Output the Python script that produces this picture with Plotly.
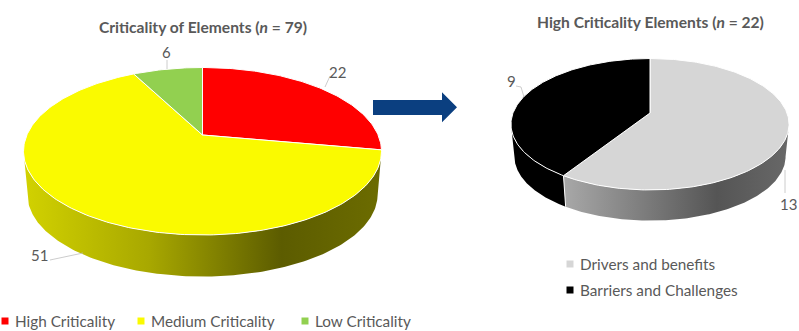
import math
import numpy as np
import plotly.graph_objects as go

# ---- data
left_title = "<b>Criticality of Elements (<i>n</i> = 79)</b>"
left_categories = ["High Criticality", "Medium Criticality", "Low Criticality"]
left_values = [22, 51, 6]
left_colors = ["#FF0000", "#FAFA00", "#92D050"]

right_title = "<b>High Criticality Elements (<i>n</i> = 22)</b>"
right_categories = ["Drivers and benefits", "Barriers and Challenges"]
right_values = [13, 9]
right_colors = ["#D6D6D6", "#000000"]

# ---- shading of the pie walls (left edge to right edge of each wall)
left_wall = {1: [[0, "#D2D200"], [0.35, "#A8A800"], [0.72, "#5C5C00"], [1, "#6C6C00"]]}
right_wall = {0: [[0, "#A8A8A8"], [0.68, "#555555"], [1, "#686868"]],
              1: [[0, "#000000"], [1, "#000000"]]}

TEXT = "#595959"
LEADER = "#BFBFBF"
FONT = "Lato"


def project(theta, g, bottom=False):
    """Perspective view of a unit-circle point at clockwise angle theta."""
    k = g["k"]
    X, Y = np.sin(theta), -np.cos(theta)
    w = 1 - k * Y
    dx = g["a"] * X / w
    dy = g["b"] * Y / w
    if bottom:
        return g["cx"] + g["s"] * dx, g["cy"] + g["d"] + g["s"] * dy
    return g["cx"] + dx, g["cy"] + dy


def add_pie(fig, values, colors, wall, g):
    total = sum(values)
    edges = np.cumsum([0] + values) / total * 2 * math.pi
    # widest points of the perspective disc limit the visible wall
    vis0 = math.acos(-g["k"])
    vis1 = 2 * math.pi - vis0
    for i, colour in enumerate(colors):
        t0, t1 = max(edges[i], vis0), min(edges[i + 1], vis1)
        if t1 <= t0 or i not in wall:
            continue
        th = np.linspace(t0, t1, 160)
        xt, yt = project(th, g)
        xb, yb = project(th[::-1], g, bottom=True)
        fig.add_trace(go.Scatter(
            x=np.r_[xt, xb, xt[0]], y=np.r_[yt, yb, yt[0]],
            mode="lines", fill="toself", line=dict(width=0),
            fillgradient=dict(type="horizontal", colorscale=wall[i]),
            hoverinfo="skip", showlegend=False))
    # seams between wall pieces
    for e in edges:
        if vis0 < e < vis1:
            xt, yt = project(e, g)
            xb, yb = project(e, g, bottom=True)
            fig.add_trace(go.Scatter(x=[xt, xb], y=[yt, yb], mode="lines",
                                     line=dict(color="white", width=1),
                                     hoverinfo="skip", showlegend=False))
    for i, colour in enumerate(colors):
        n = max(int((edges[i + 1] - edges[i]) * 60), 8)
        th = np.linspace(edges[i], edges[i + 1], n)
        xr, yr = project(th, g)
        fig.add_trace(go.Scatter(
            x=np.r_[g["cx"], xr, g["cx"]], y=np.r_[g["cy"], yr, g["cy"]],
            mode="lines", fill="toself", fillcolor=colour,
            line=dict(color="white", width=1),
            hoverinfo="skip", showlegend=False))


left_g = dict(cx=202.5, cy=135, a=175.6, b=80.6, k=0.194, s=0.978, d=43.7)
right_g = dict(cx=650, cy=113, a=137, b=63.8, k=0.171, s=0.975, d=32.6)

fig = go.Figure()
add_pie(fig, left_values, left_colors, left_wall, left_g)
add_pie(fig, right_values, right_colors, right_wall, right_g)

annotations = []


def text(x, y, s, size=15, anchor="center", color=TEXT):
    annotations.append(dict(x=x, y=y, text=s, showarrow=False, xanchor=anchor, yanchor="middle",
                            xref="x", yref="y", font=dict(family=FONT, size=size, color=color)))


text(202.5, 27, left_title, 15.6)
text(650, 22, right_title, 15.6)

for v, (x, y) in zip(left_values, [(337, 72), (39, 255), (166, 52)]):
    text(x, y, str(v))
for v, (x, y) in zip(right_values, [(788, 204), (511, 81)]):
    text(x, y, str(v))

# legends
swatch_x, swatch_y, swatch_c = [], [], []
for cat, c, x in zip(left_categories, left_colors, [5, 141, 305]):
    swatch_x.append(x); swatch_y.append(321); swatch_c.append(c)
    text(x + 8, 321, cat, 15.3, "left")
for cat, c, y in zip(right_categories, right_colors, [264, 290]):
    swatch_x.append(570); swatch_y.append(y); swatch_c.append(c)
    text(578, y, cat, 15.3, "left")
fig.add_trace(go.Scatter(x=swatch_x, y=swatch_y, mode="markers",
                         marker=dict(symbol="square", size=7, color=swatch_c),
                         hoverinfo="skip", showlegend=False))

shapes = []
for pts in ([(325, 87), (330, 76)], [(167, 60), (167, 69)], [(50, 260), (83, 253)],
            [(516, 86), (521, 87), (524, 97)], [(785, 170), (785, 193)]):
    path = "M " + " L ".join(f"{x},{y}" for x, y in pts)
    shapes.append(dict(type="path", path=path, xref="x", yref="y",
                       line=dict(color=LEADER, width=0.8)))
# block arrow between the pies
shapes.append(dict(type="path", xref="x", yref="y", fillcolor="#0B3F80", line=dict(width=0),
                   path="M 373,100 L 442,100 L 442,92.3 L 457,107.3 L 442,122.3 L 442,115 L 373,115 Z"))

fig.update_layout(
    width=799, height=331, margin=dict(l=0, r=0, t=0, b=0),
    paper_bgcolor="white", plot_bgcolor="white", showlegend=False,
    xaxis=dict(range=[0, 799], visible=False, fixedrange=True),
    yaxis=dict(range=[331, 0], visible=False, fixedrange=True),
    annotations=annotations, shapes=shapes,
)
fig.write_html("out.html", config={"displayModeBar": False},
               post_script="document.body.style.margin='0';document.documentElement.style.overflow='hidden';")
